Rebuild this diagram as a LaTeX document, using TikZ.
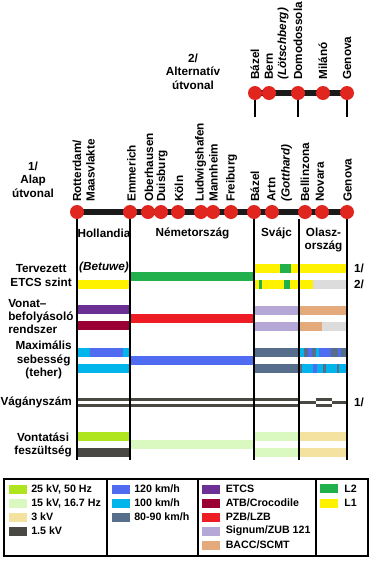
\documentclass[tikz,border=0pt]{standalone}
\usepackage{fontspec}
\setmainfont{Liberation Sans}
\usepackage{tikz}
\usetikzlibrary{positioning,backgrounds}

\definecolor{stnred}{HTML}{E0261F}
\definecolor{routeblk}{HTML}{1A1A1A}
\definecolor{cKvtf}{HTML}{AEE51E}
\definecolor{cKvft}{HTML}{D9F9C0}
\definecolor{cKvth}{HTML}{F4E3A0}
\definecolor{cKvlow}{HTML}{4A4843}
\definecolor{cSpd}{HTML}{4F6CF0}
\definecolor{cSpc}{HTML}{00B4EC}
\definecolor{cSpb}{HTML}{566E8C}
\definecolor{cEtcs}{HTML}{6C3095}
\definecolor{cAtb}{HTML}{9A0033}
\definecolor{cPzb}{HTML}{EE1C25}
\definecolor{cSig}{HTML}{B5A8D6}
\definecolor{cBacc}{HTML}{E5AA7C}
\definecolor{cLtwo}{HTML}{22B04C}
\definecolor{cLone}{HTML}{FFF200}
\definecolor{cNone}{HTML}{DCDCDC}

\newcommand{\rowbar}[4]{\fill[#4] (#1,#3) rectangle (#2,#3+9);}

\begin{document}
\begin{tikzpicture}[x=0.75pt, y=-0.75pt,
  lbl/.style={font=\fontsize{8.8}{10}\selectfont\bfseries, inner sep=0pt},
  leg/.style={font=\fontsize{8}{9}\selectfont\bfseries, inner sep=0pt, anchor=west},
  stn/.style={circle, fill=stnred, inner sep=0pt, minimum size=10.5pt},
  route/.style={line width=5pt, draw=routeblk},
  sep/.style={line width=0.9pt},
  track/.style={line width=2.2pt, draw=cKvlow}]
  \useasboundingbox (0,0) rectangle (370,561);

  % Route 2 (alternative)
  \node[lbl, align=center] (alt) at (193,71.5) {2/\\Alternatív\\útvonal};
  \foreach \n/\x in {baz2/255, ber2/269, dom2/298, mil2/323, gen2/347} {
    \node[stn] (\n) at (\x,93) {};
  }
  \begin{scope}[on background layer]
    \draw[route] (baz2.center) -- (gen2.center);
  \end{scope}
  \foreach \n/\x/\t in {baz2/255/Bázel, ber2/269/Bern, lot2/283/{\textit{(Lötschberg)}},
      dom2/298/Domodossola, mil2/323/Milánó, gen2/347/Genova} {
    \node[lbl, rotate=90, anchor=west] (l-\n) at (\x,80) {\t};
  }
  \coordinate (tk) at (0,117);
  \foreach \n in {baz2, dom2, gen2} {
    \draw[sep] (\n) -- (\n |- tk);
  }

  % Route 1 (basic)
  \node[lbl, align=center] (base) at (33,179.5) {1/\\Alap\\útvonal};
  \foreach \n/\x in {rot/77, emm/130, obe/148, dui/161, kol/178, lud/201, man/213,
      fre/231, baz/254, art/272, bel/305, nov/322, gen/347} {
    \node[stn] (\n) at (\x,212) {};
  }
  \begin{scope}[on background layer]
    \draw[route] (rot.center) -- (gen.center);
  \end{scope}
  \foreach \n/\x/\t in {rot/77/{Rotterdam/}, maa/90.5/Maasvlakte, emm/131.5/Emmerich,
      obe/149/Oberhausen, dui/162/Duisburg, kol/179/Köln, lud/200.5/Ludwigshafen,
      man/213.5/Mannheim, fre/231.5/Freiburg, baz/255/Bázel, art/271.5/Artn,
      got/286.5/{\textit{(Gotthard)}}, bel/305/Bellinzona, nov/320/Novara, gen/347.5/Genova} {
    \node[lbl, rotate=90, anchor=west] (l-\n) at (\x,202) {\t};
  }

  % Countries
  \node[lbl] (nl) at (104,233) {Hollandia};
  \node[lbl] (de) at (192.5,233) {Németország};
  \node[lbl] (ch) at (276.5,233) {Svájc};
  \node[lbl, align=center] (it) at (323.5,240) {Olasz-\\ország};

  % Row labels
  \node[lbl, align=center, anchor=east] (r-etcs) at (72,275.5) {Tervezett\\ETCS szint};
  \node[lbl, align=left, anchor=west] (r-ctrl) at (8,316.5) {Vonat–\\befolyásoló\\rendszer};
  \node[lbl, align=center, anchor=east] (r-spd) at (72,360) {Maximális\\sebesség\\(teher)};
  \node[lbl, anchor=east] (r-trk) at (72,402) {Vágányszám};
  \node[lbl, align=center, anchor=east] (r-kv) at (72,445) {Vontatási\\feszültség};

  % ETCS level
  \node[lbl] (betuwe) at (104,267) {\textit{(Betuwe)}};
  \rowbar{77}{131}{280}{cLone}
  \rowbar{131}{254}{272}{cLtwo}
  \rowbar{254}{348}{264}{cLone}
  \rowbar{280}{291}{264}{cLtwo}
  \rowbar{254}{348}{280}{cNone}
  \rowbar{254}{313}{280}{cLone}
  \rowbar{259}{262}{280}{cLtwo}
  \rowbar{284}{290}{280}{cLtwo}
  \node[lbl] (v1) at (359,268) {1/};
  \node[lbl] (v2) at (359,284.5) {2/};

  % Train control
  \rowbar{77}{131}{305}{cEtcs}
  \rowbar{77}{131}{321}{cAtb}
  \rowbar{131}{254}{314}{cPzb}
  \rowbar{254}{299}{306}{cSig}
  \rowbar{254}{299}{322}{cSig}
  \rowbar{299}{348}{306}{cBacc}
  \rowbar{299}{348}{322}{cNone}
  \rowbar{299}{322}{322}{cBacc}

  % Max speed
  \rowbar{77}{131}{347.5}{cSpc}
  \rowbar{90}{123}{347.5}{cSpd}
  \rowbar{77}{131}{364}{cSpc}
  \rowbar{131}{254}{356}{cSpd}
  \rowbar{254}{299}{348}{cSpb}
  \rowbar{254}{299}{364}{cSpb}
  \rowbar{299}{348}{348}{cSpb}
  \rowbar{299}{304}{348}{cSpc}
  \rowbar{308}{312}{348}{cSpd}
  \rowbar{316}{319}{348}{cSpc}
  \rowbar{319}{331}{348}{cSpd}
  \rowbar{338}{341}{348}{cSpd}
  \rowbar{299}{348}{364}{cSpc}
  \rowbar{299}{302}{364}{cSpb}
  \rowbar{313}{317}{364}{cSpd}
  \rowbar{323}{326}{364}{cSpb}
  \rowbar{337}{339}{364}{cSpb}

  % Tracks
  \draw[track] (77,399.5) -- (299,399.5);
  \draw[track] (77,405.5) -- (299,405.5);
  \draw[track] (299,402.5) -- (316,402.5);
  \draw[track] (316,399.5) -- (332,399.5);
  \draw[track] (316,405.5) -- (332,405.5);
  \draw[track] (332,402.5) -- (348,402.5);
  \node[lbl] (v3) at (359,402) {1/};

  % Voltage
  \rowbar{77}{131}{432}{cKvtf}
  \rowbar{77}{131}{448}{cKvlow}
  \rowbar{131}{254}{440}{cKvft}
  \rowbar{254}{299}{432}{cKvft}
  \rowbar{254}{299}{448}{cKvft}
  \rowbar{299}{348}{432}{cKvth}
  \rowbar{299}{348}{448}{cKvth}

  % Border lines
  \coordinate (bot) at (0,460);
  \coordinate (itbot) at (299,460);
  \foreach \n in {rot, emm, baz, gen} {
    \draw[sep] (\n) -- (\n |- bot);
  }
  \draw[sep] (bel.south -| itbot) -- (itbot);

  % Legend
  \draw[sep] (4,479) rectangle (368,556);
  \foreach \x in {107, 198, 316} {
    \draw[sep] (\x,479) -- (\x,556);
  }
  \foreach \c/\t [count=\i] in {cKvtf/{25 kV, 50 Hz}, cKvft/{15 kV, 16.7 Hz},
      cKvth/{3 kV}, cKvlow/{1.5 kV}} {
    \fill[\c] (9,470.5+14*\i) rectangle +(18,9);
    \node[leg] (lg-a\i) at (31,475+14*\i) {\t};
  }
  \foreach \c/\t [count=\i] in {cSpd/{120 km/h}, cSpc/{100 km/h}, cSpb/{80-90 km/h}} {
    \fill[\c] (112,470.5+14*\i) rectangle +(18,9);
    \node[leg] (lg-b\i) at (134,475+14*\i) {\t};
  }
  \foreach \c/\t [count=\i] in {cEtcs/ETCS, cAtb/{ATB/Crocodile}, cPzb/{PZB/LZB},
      cSig/{Signum/ZUB 121}, cBacc/{BACC/SCMT}} {
    \fill[\c] (202,470.5+14*\i) rectangle +(18,9);
    \node[leg] (lg-c\i) at (225.5,475+14*\i) {\t};
  }
  \foreach \c/\t [count=\i] in {cLtwo/L2, cLone/L1} {
    \fill[\c] (320,469.5+14.5*\i) rectangle +(18,9);
    \node[leg] (lg-d\i) at (344,474+14.5*\i) {\t};
  }
\end{tikzpicture}
\end{document}
